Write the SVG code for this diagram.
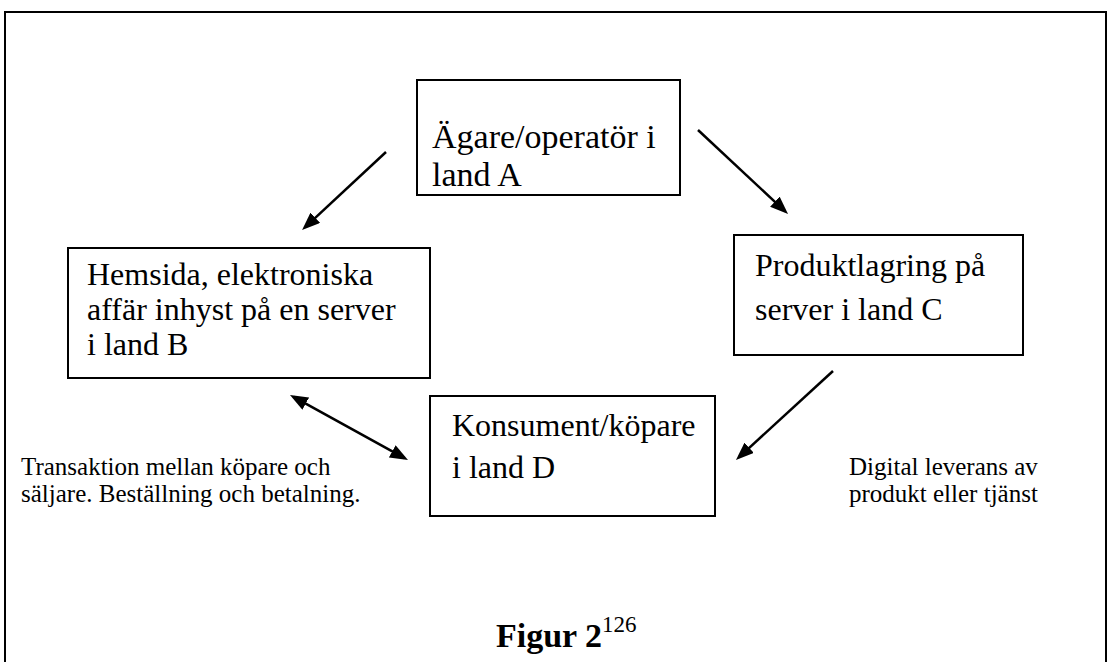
<svg xmlns="http://www.w3.org/2000/svg" width="1111" height="662" viewBox="0 0 1111 662">
<style>
.box{fill:#fff;stroke:#000;stroke-width:2}
.t{font-family:"Liberation Serif","Times New Roman",serif;font-size:32px;fill:#000}
.ta{font-size:34px}
.s{font-family:"Liberation Serif","Times New Roman",serif;font-size:25px;fill:#000}
.c{stroke:#000;stroke-width:2.5;fill:none}
</style>
<defs>
<marker id="ah" viewBox="0 0 18 14" markerWidth="18" markerHeight="14" markerUnits="userSpaceOnUse" refX="14" refY="7" orient="auto-start-reverse">
<path d="M0,0 L18,7 L0,14 z" fill="#000"/>
</marker>
</defs>
<rect width="1111" height="662" fill="#fff"/>
<path d="M5,662 V12 H1106 V662" fill="none" stroke="#000" stroke-width="2"/>
<g id="nodeA">
<rect class="box" x="417" y="80" width="263" height="115"/>
<text class="t ta" x="432" y="148">Ägare/operatör i</text>
<text class="t ta" x="432" y="186">land A</text>
</g>
<g id="nodeB">
<rect class="box" x="68" y="248" width="362" height="130"/>
<text class="t" x="87" y="285">Hemsida, elektroniska</text>
<text class="t" x="87" y="320">affär inhyst på en server</text>
<text class="t" x="87" y="355">i land B</text>
</g>
<g id="nodeC">
<rect class="box" x="734" y="235" width="289" height="120"/>
<text class="t" x="755" y="276">Produktlagring på</text>
<text class="t" x="755" y="320">server i land C</text>
</g>
<g id="nodeD">
<rect class="box" x="430" y="396" width="285" height="120"/>
<text class="t" x="452" y="436">Konsument/köpare</text>
<text class="t" x="452" y="478">i land D</text>
</g>
<g id="connectors">
<line class="c" x1="386" y1="152" x2="305" y2="227.3" marker-end="url(#ah)"/>
<line class="c" x1="698" y1="130" x2="785.1" y2="211.3" marker-end="url(#ah)"/>
<line class="c" x1="833" y1="371" x2="738.9" y2="457.3" marker-end="url(#ah)"/>
<line class="c" x1="293.5" y1="396.9" x2="404.5" y2="458.1" marker-start="url(#ah)" marker-end="url(#ah)"/>
</g>
<g id="labels">
<text class="s" x="21" y="475">Transaktion mellan köpare och</text>
<text class="s" x="21" y="502">säljare. Beställning och betalning.</text>
<text class="s" x="849" y="475">Digital leverans av</text>
<text class="s" x="849" y="502">produkt eller tjänst</text>
<text x="496" y="647" font-family="Liberation Serif, serif" font-size="34" font-weight="bold">Figur 2<tspan font-weight="normal" font-size="23" dy="-15">126</tspan></text>
</g>
</svg>
